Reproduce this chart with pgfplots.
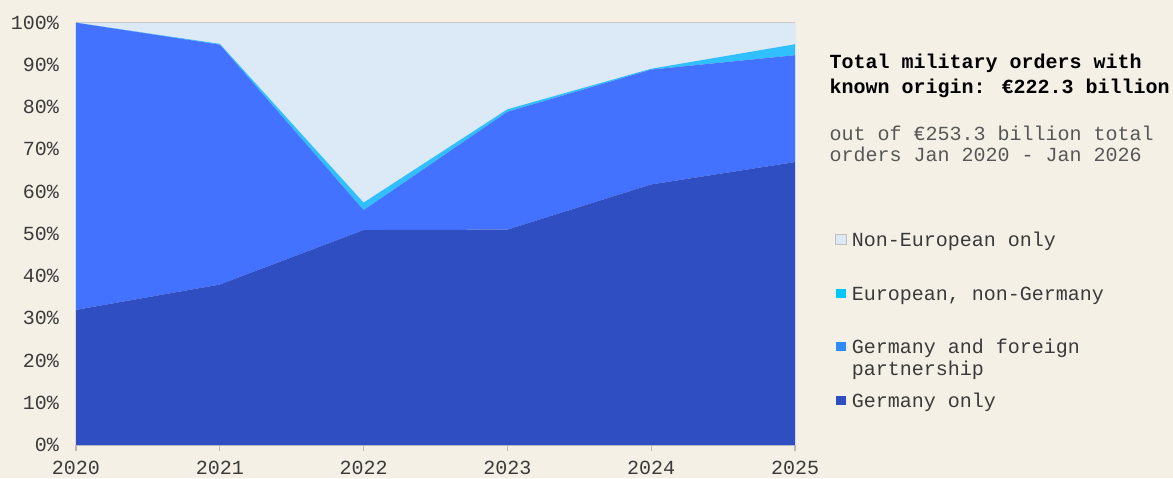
\documentclass[border=0pt]{standalone}
\usepackage{pgfplots}
\pgfplotsset{compat=1.18}
\usepackage{fontspec}
\setmainfont{Liberation Mono}
\setmonofont{Liberation Mono}
\definecolor{bg}{HTML}{F4F0E6}
\definecolor{cGO}{HTML}{2F4EC1}
\definecolor{cGF}{HTML}{4272FF}
\definecolor{cEU}{HTML}{31C0FF}
\definecolor{cNE}{HTML}{DCE9F6}
\definecolor{lGF}{HTML}{2E8BFF}
\definecolor{lEU}{HTML}{00C8FF}
\definecolor{txt}{HTML}{3A3A3A}
\definecolor{axgray}{HTML}{BDB8B0}
\begin{document}
\fontsize{10pt}{12pt}\selectfont
\begin{tikzpicture}
\path[use as bounding box, fill=bg] (-38pt,-16.5pt) rectangle (548.5pt,222.5pt);
\begin{axis}[
  at={(0,0)}, anchor=south west,
  scale only axis, width=359.5pt, height=211.15pt,
  xmin=2020, xmax=2025, ymin=0, ymax=100,
  stack plots=y,
  axis line style={draw=none},
  xtick={2020,2021,2022,2023,2024,2025},
  ytick={0,10,...,100},
  xtick pos=left,
  /pgf/number format/1000 sep={},
  /pgf/number format/assume math mode=true,
  yticklabel={\pgfmathprintnumber{\tick}\%},
  tick label style={font=\fontsize{10pt}{12pt}\selectfont, text=txt},
  ytick style={draw=none},
  xtick style={draw=axgray, line width=0.6pt},
  tick align=outside, major tick length=3pt,
  yticklabel style={xshift=-2pt},
  xticklabel style={yshift=-1.3pt},
]
\addplot[fill=cGO, draw=none] coordinates {(2020,32) (2021,38) (2022,50.9) (2023,51) (2024,61.7) (2025,67)} \closedcycle;
\addplot[fill=cGF, draw=none] coordinates {(2020,68) (2021,56.8) (2022,4.7) (2023,27.9) (2024,27.2) (2025,25.3)} \closedcycle;
\addplot[fill=cEU, draw=none] coordinates {(2020,0) (2021,0.2) (2022,1.8) (2023,0.6) (2024,0.2) (2025,2.6)} \closedcycle;
\addplot[fill=cNE, draw=none] coordinates {(2020,0) (2021,5) (2022,42.6) (2023,20.5) (2024,10.9) (2025,5.1)} \closedcycle;
\draw[axgray, line width=0.6pt] (rel axis cs:0,1) -- (rel axis cs:1,1) -- (rel axis cs:1,0);
\draw[gray!45, line width=0.8pt] (rel axis cs:0,0) -- (rel axis cs:1,0);
\end{axis}
\tikzset{every node/.style={inner xsep=0pt}}
\node[anchor=base west, font=\bfseries, text=black] at (376.65pt,188.5pt) {Total military orders with};
\node[anchor=base west, font=\bfseries, text=black] at (376.65pt,176pt) {known origin: €222.3 billion};
\node[anchor=base west, text=txt!85] at (376.65pt,152.5pt) {out of €253.3 billion total};
\node[anchor=base west, text=txt!85] at (376.65pt,141.65pt) {orders Jan 2020 - Jan 2026};
\fill[cNE, draw=gray!50, line width=0.4pt] (379.85pt,100.35pt) rectangle (385pt,105.35pt);
\fill[lEU] (379.85pt,73.35pt) rectangle (385pt,78pt);
\fill[lGF] (379.85pt,47pt) rectangle (385pt,51.65pt);
\fill[cGO] (379.85pt,20pt) rectangle (385pt,24.65pt);
\node[anchor=base west, text=txt] at (387.75pt,99.5pt) {Non-European only};
\node[anchor=base west, text=txt] at (387.75pt,72.5pt) {European, non-Germany};
\node[anchor=base west, text=txt] at (387.75pt,46pt) {Germany and foreign};
\node[anchor=base west, text=txt] at (387.75pt,35pt) {partnership};
\node[anchor=base west, text=txt] at (387.75pt,19pt) {Germany only};
\end{tikzpicture}
\end{document}
